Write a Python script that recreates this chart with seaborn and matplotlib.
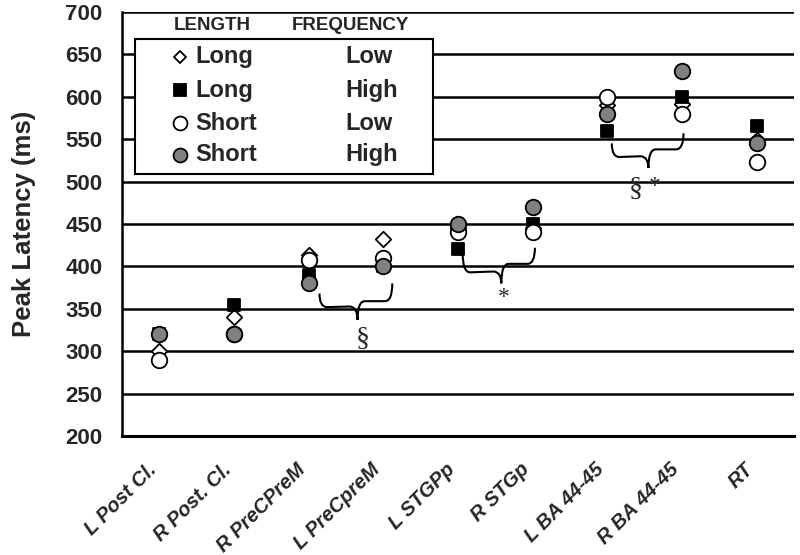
import numpy as np
import pandas as pd
import matplotlib
matplotlib.use("Agg")
import matplotlib.pyplot as plt
import seaborn as sns
import matplotlib.transforms as mtransforms
from matplotlib.path import Path
from matplotlib.patches import PathPatch, Rectangle

# ---------------- data ----------------
regions = ["L Post Cl.", "R Post. Cl.", "R PreCPreM", "L PreCpreM", "L STGPp",
           "R STGp", "L BA 44-45", "R BA 44-45", "RT"]
long_low = [300, 340, 413, 432, 445, 445, 590, 592, 549]
long_high = [320, 355, 390, 400, 420, 450, 560, 600, 566]
short_low = [290, 320, 408, 410, 440, 440, 600, 580, 523]
short_high = [320, 320, 380, 400, 450, 470, 580, 630, 545]
yticks = [200, 250, 300, 350, 400, 450, 500, 550, 600, 650, 700]
length_labels = ["Long", "Long", "Short", "Short"]
freq_labels = ["Low", "High", "Low", "High"]

sns.set_style("white")
plt.rcParams['font.family'] = ['Liberation Sans', 'DejaVu Sans']

fig = plt.figure(figsize=(8, 5.55), dpi=100)
ax = fig.add_axes([0.1525, 0.2144, 0.84, 0.764])

styles = [
    dict(marker='D', s=62, color='white'),
    dict(marker='s', s=66, color='black'),
    dict(marker='o', s=125, color='white'),
    dict(marker='o', s=125, color='#808080'),
]
series = [long_low, long_high, short_low, short_high]

for i, (vals, st) in enumerate(zip(series, styles)):
    df = pd.DataFrame({"region": regions, "latency": vals})
    sns.scatterplot(data=df, x="region", y="latency", marker=st['marker'], s=st['s'],
                    color=st['color'], edgecolor='black', linewidth=1.3,
                    ax=ax, zorder=3 + i, legend=False)

ax.set_xlim(-0.5, 8.5)
ax.set_ylim(200, 700)
ax.set_yticks(yticks)
ax.set_yticklabels([str(v) for v in yticks], fontsize=16, fontweight='bold')
ax.set_axisbelow(True)
ax.yaxis.grid(True, color='black', linewidth=1.8)
ax.xaxis.grid(False)
for sp in ['top', 'right']:
    ax.spines[sp].set_visible(False)
ax.spines['left'].set_color('black')
ax.spines['left'].set_linewidth(1.8)
ax.spines['bottom'].set_color('black')
ax.spines['bottom'].set_linewidth(2.2)
ax.tick_params(axis='y', direction='out', length=6, width=1.5, pad=8, color='black')
ax.tick_params(axis='x', length=0, pad=22)
ax.set_xticks(range(len(regions)))
ax.set_xticklabels(regions, rotation=45, ha='right', va='center', rotation_mode='anchor',
                   fontsize=14.5, fontweight='bold', fontstyle='italic')
shift = mtransforms.ScaledTranslation(-6 / 100, 0, fig.dpi_scale_trans)
for lab in ax.get_xticklabels():
    lab.set_transform(lab.get_transform() + shift)
ax.set_xlabel("")
ax.set_ylabel("Peak Latency (ms)", fontsize=18.5, fontweight='bold')
ax.yaxis.set_label_coords(-0.128, 0.5)


# ---------------- braces and significance marks ----------------
def brace(xl, yl_end, yl_lvl, xt, yt, yr_lvl, yr_end, xr, dx=0.1):
    verts = [(xl, yl_end),
             (xl, yl_lvl), (xl + dx, yl_lvl),
             (xt - dx, yl_lvl + (yr_lvl - yl_lvl) * 0.1),
             (xt, yl_lvl), (xt, yt),
             (xt, yr_lvl), (xt + dx, yr_lvl),
             (xr - dx, yr_lvl),
             (xr, yr_lvl), (xr, yr_end)]
    codes = [Path.MOVETO,
             Path.CURVE3, Path.CURVE3,
             Path.LINETO,
             Path.CURVE3, Path.CURVE3,
             Path.CURVE3, Path.CURVE3,
             Path.LINETO,
             Path.CURVE3, Path.CURVE3]
    ax.add_patch(PathPatch(Path(verts, codes), fill=False, edgecolor='black',
                           linewidth=1.5, zorder=2.5))


brace(2.145, 368, 352, 2.654, 337, 359, 380, 3.12)
brace(4.06, 419, 393, 4.58, 380, 403, 422, 5.03)
brace(6.06, 545, 529, 6.55, 516, 538, 557, 7.02)
serif = ['Liberation Serif', 'DejaVu Serif']
ax.text(2.72, 314, "§", ha='center', va='center', fontsize=20, family=serif)
ax.text(4.61, 363, "*", ha='center', va='center', fontsize=17, family=serif)
ax.text(6.38, 491, "§", ha='center', va='center', fontsize=20, family=serif)
ax.text(6.63, 494, "*", ha='center', va='center', fontsize=17, family=serif)

# ---------------- legend (hand-built table) ----------------
ax.add_patch(Rectangle((0.0193, 0.618), 0.4435, 0.318, transform=ax.transAxes,
                       facecolor='white', edgecolor='black', linewidth=1.5, zorder=6))
ax.text(0.0774, 0.969, "LENGTH", transform=ax.transAxes, ha='left', va='center',
        fontsize=13.5, fontweight='bold', zorder=7)
ax.text(0.253, 0.969, "FREQUENCY", transform=ax.transAxes, ha='left', va='center',
        fontsize=13.5, fontweight='bold', zorder=7)
row_y = [0.894, 0.816, 0.738, 0.663]
leg_ms = [6.5, 8, 10, 10]
for i, st in enumerate(styles):
    ax.plot([0.0863], [row_y[i]], transform=ax.transAxes, marker=st['marker'],
            markersize=leg_ms[i], markerfacecolor=st['color'], markeredgecolor='black',
            markeredgewidth=1.3, linestyle='none', zorder=8, clip_on=False)
    ax.text(0.1086, row_y[i], length_labels[i], transform=ax.transAxes, ha='left',
            va='center', fontsize=17, fontweight='bold', zorder=8)
    ax.text(0.333, row_y[i], freq_labels[i], transform=ax.transAxes, ha='left',
            va='center', fontsize=17, fontweight='bold', zorder=8)

fig.savefig("out.png", dpi=100)
